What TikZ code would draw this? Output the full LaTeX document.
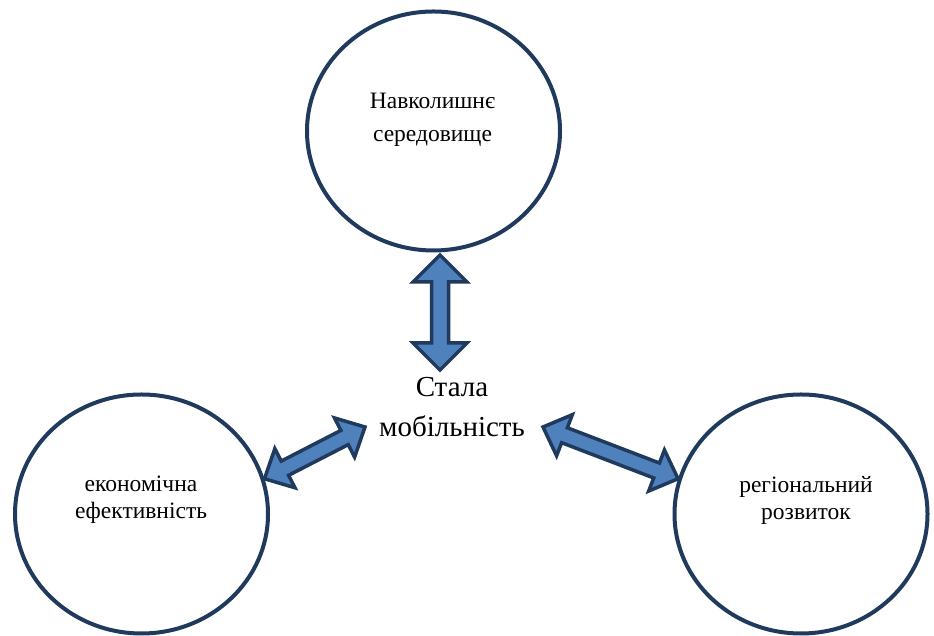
\documentclass[tikz,border=0pt]{standalone}
\usepackage{fontspec}
\setmainfont{Liberation Serif}
\usetikzlibrary{shapes.geometric, calc}

\definecolor{navy}{HTML}{1F3A5C}
\definecolor{arrblue}{HTML}{4F81BD}

%% double-headed block arrow between two points
%% #1 from, #2 to, #3 head length, #4 head half width, #5 shaft half width
\newcommand{\dblarrow}[5]{%
  \draw[twoway]
    (#1)
    -- ($($(#1)!#3!(#2)$)!#4!90:(#2)$)
    -- ($($(#1)!#3!(#2)$)!#5!90:(#2)$)
    -- ($($(#2)!#3!(#1)$)!#5!-90:(#1)$)
    -- ($($(#2)!#3!(#1)$)!#4!-90:(#1)$)
    -- (#2)
    -- ($($(#2)!#3!(#1)$)!#4!90:(#1)$)
    -- ($($(#2)!#3!(#1)$)!#5!90:(#1)$)
    -- ($($(#1)!#3!(#2)$)!#5!-90:(#2)$)
    -- ($($(#1)!#3!(#2)$)!#4!-90:(#2)$)
    -- cycle;}

\begin{document}
\begin{tikzpicture}[
  x=1pt, y=1pt,
  field/.style={
    ellipse, draw=navy, line width=4pt,
    minimum width=253pt, minimum height=239pt
  },
  fieldtext/.style={
    align=center, inner sep=0pt,
    font=\fontsize{23.5}{27}\selectfont
  },
  hubtext/.style={
    align=center, inner sep=0pt,
    font=\fontsize{29}{40}\selectfont
  },
  twoway/.style={
    draw=navy, fill=arrblue, line width=3.5pt, line join=miter
  }
]
\useasboundingbox (0,0) rectangle (934,636);

%% Three fields round the centre
\node[field] (env) at (433.5,505) {};
\node[field] (eco) at (141.5,122) {};
\node[field] (reg) at (801,122) {};

\node[fieldtext, font=\fontsize{23.5}{33}\selectfont] (envtxt) at (432.5,516.5)
  {Навколишнє\\середовище};
\node[fieldtext] (ecotxt) at (141,136.5) {економічна\\ефективність};
\node[fieldtext] (regtxt) at (806,136) {регіональний\\розвиток};

%% Centre
\node[hubtext] (hub) at (452,228.5) {Стала\\мобільність};

%% Arrow ends
\coordinate (envS) at (440,381);
\coordinate (hubN) at (440,266);
\coordinate (hubW) at (365,209);
\coordinate (hubE) at (543,209);

%% Double arrows
\dblarrow{envS}{hubN}{27pt}{27pt}{8.5pt}
\dblarrow{eco.16}{hubW}{23pt}{22pt}{8pt}
\dblarrow{reg.164}{hubE}{23pt}{22pt}{8pt}

\end{tikzpicture}
\end{document}
